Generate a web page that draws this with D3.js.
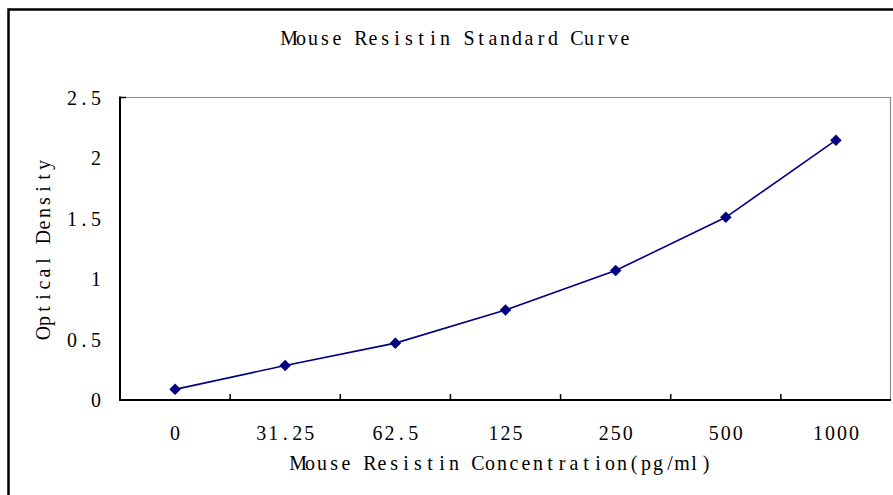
<!DOCTYPE html>
<html>
<head>
<meta charset="utf-8">
<script src="https://cdn.jsdelivr.net/npm/d3@7"></script>
<style>
  html, body { margin: 0; padding: 0; background: #fff; }
  svg { display: block; }
  text { font-family: "Liberation Serif", "DejaVu Serif", serif; fill: #000; }
</style>
</head>
<body>
<svg id="chart" width="893" height="495"></svg>
<script>
const categories = ["0", "31.25", "62.5", "125", "250", "500", "1000"];
const odValues = [0.088, 0.285, 0.47, 0.743, 1.07, 1.51, 2.147];
const yTicks = [0, 0.5, 1, 1.5, 2, 2.5];
const yTickLabels = ["0", "0.5", "1", "1.5", "2", "2.5"];
const title = "Mouse Resistin Standard Curve";
const xTitle = "Mouse Resistin Concentration(pg/ml)";
const yTitle = "Optical Density";

const svg = d3.select("#chart");
const W = 893, H = 495;
const plot = { left: 120, right: 891, top: 97.5, bottom: 400 };
const CELL = 12, SX = 0.95, FS = 21;

// draws a string as one text element with fixed-width character cells (SimSun-like half-width look)
function cellText(parent, str, px, py, anchor, rotate) {
  const n = str.length;
  const total = n * CELL;
  let start = anchor === "middle" ? -total / 2 : anchor === "end" ? -total : 0;
  const xs = d3.range(n).map(i => ((start + CELL * (i + 0.5)) / SX).toFixed(2));
  return parent.append("text")
    .attr("transform", `translate(${px},${py})${rotate ? " rotate(" + rotate + ")" : ""} scale(${SX},1)`)
    .attr("x", xs.join(" "))
    .attr("y", 0)
    .attr("text-anchor", "middle")
    .attr("font-size", FS)
    .text(str);
}

svg.append("rect").attr("x", 0).attr("y", 0).attr("width", W).attr("height", H).attr("fill", "#fff");

// outer chart border (extends beyond the photographed area)
svg.append("rect")
  .attr("x", 8.5).attr("y", 9.5)
  .attr("width", 900).attr("height", 500)
  .attr("fill", "none").attr("stroke", "#000").attr("stroke-width", 2.5);

const x = d3.scaleBand().domain(categories).range([plot.left, plot.right]).paddingInner(0).paddingOuter(0);
const y = d3.scaleLinear().domain([0, 2.5]).range([plot.bottom, plot.top]);

// plot frame: top & right grey
svg.append("line").attr("x1", plot.left).attr("x2", plot.right).attr("y1", plot.top).attr("y2", plot.top)
  .attr("stroke", "#8c8c8c").attr("stroke-width", 1.2);
svg.append("line").attr("x1", plot.right - 0.5).attr("x2", plot.right - 0.5).attr("y1", plot.top).attr("y2", plot.bottom)
  .attr("stroke", "#8c8c8c").attr("stroke-width", 1.2);

// X axis: ticks at category boundaries, pointing inward
const xAxisG = svg.append("g").attr("transform", `translate(0,${plot.bottom})`);
const boundaries = categories.slice(1).map(c => x(c));
xAxisG.selectAll("line.tick").data(boundaries).enter().append("line")
  .attr("class", "tick")
  .attr("x1", d => d).attr("x2", d => d).attr("y1", 0).attr("y2", -6)
  .attr("stroke", "#000").attr("stroke-width", 1.5);
xAxisG.append("line").attr("x1", plot.left - 1).attr("x2", plot.right).attr("y1", 0).attr("y2", 0)
  .attr("stroke", "#000").attr("stroke-width", 2);
categories.forEach(c => cellText(xAxisG, c, x(c) + x.bandwidth() / 2, 39.5, "middle"));

// Y axis
const yAxisG = svg.append("g");
yAxisG.append("line").attr("x1", plot.left).attr("x2", plot.left).attr("y1", plot.top - 1).attr("y2", plot.bottom + 1)
  .attr("stroke", "#000").attr("stroke-width", 2);
yAxisG.append("line").attr("x1", plot.left).attr("x2", plot.left + 6).attr("y1", plot.top).attr("y2", plot.top)
  .attr("stroke", "#000").attr("stroke-width", 1.5);
yTicks.forEach((t, i) => cellText(yAxisG, yTickLabels[i], 102, y(t) + 7, "end"));

// titles
cellText(svg, title, 457, 45, "middle");
cellText(svg, xTitle, 502, 470, "middle");
cellText(svg, yTitle, 50, 249, "middle", -90);

// line + markers
const cx = d => x(d) + x.bandwidth() / 2;
const data = categories.map((c, i) => ({ c, v: odValues[i] }));
svg.append("path").datum(data)
  .attr("fill", "none").attr("stroke", "#000080").attr("stroke-width", 1.6)
  .attr("d", d3.line().x(d => cx(d.c)).y(d => y(d.v)));
svg.selectAll("path.mk").data(data).enter().append("path")
  .attr("class", "mk")
  .attr("transform", d => `translate(${cx(d.c)},${y(d.v)})`)
  .attr("d", "M0,-5.5L5.5,0L0,5.5L-5.5,0Z")
  .attr("fill", "#000080").attr("stroke", "#000080").attr("stroke-width", 0.5);
</script>
</body>
</html>
